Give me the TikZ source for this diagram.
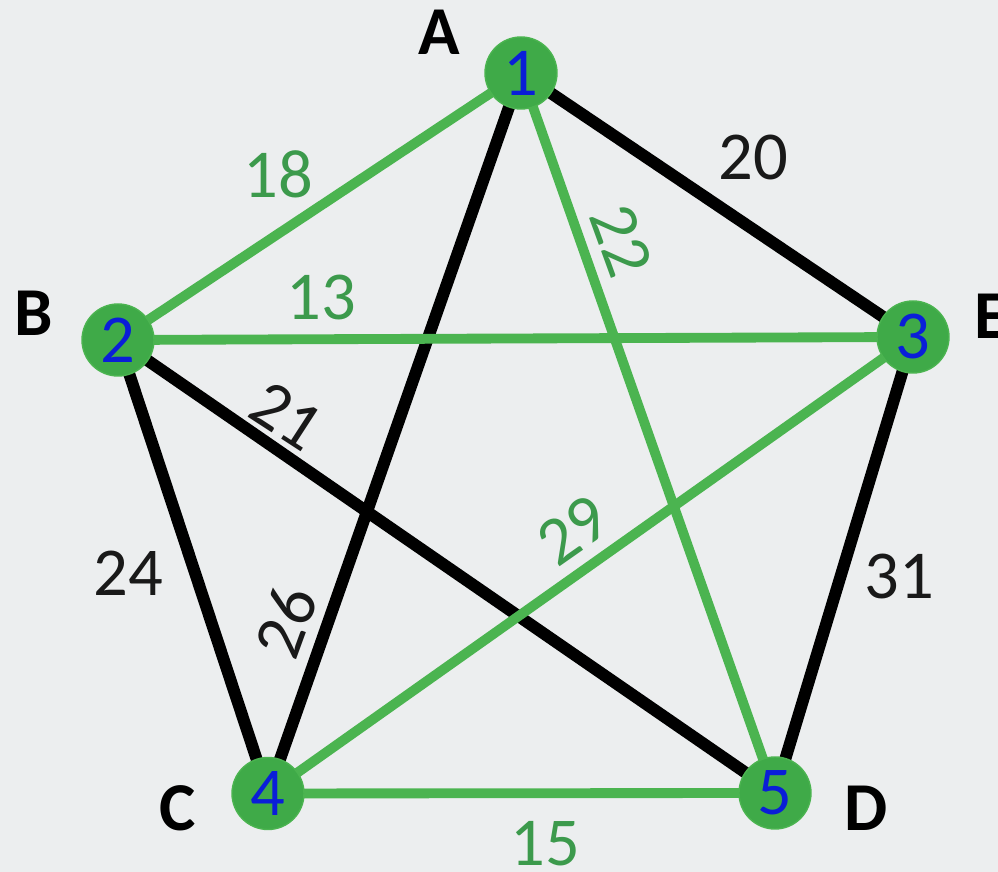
\documentclass[tikz,border=0pt]{standalone}
\usepackage{fontspec}
\setmainfont{Carlito}
\definecolor{bg}{HTML}{ECEEEF}
\definecolor{gedge}{HTML}{4BB450}
\definecolor{gnode}{HTML}{3FAA48}
\definecolor{gtext}{HTML}{3C9A4C}
\definecolor{ntext}{HTML}{0A1ED8}
\begin{document}
\begin{tikzpicture}[
  vertex/.style={circle,fill=gnode,draw=gedge,line width=0.8pt,minimum size=1.44cm,inner sep=0pt,
    font=\fontsize{39}{39}\selectfont,text=ntext},
  letter/.style={inner sep=0pt,font=\fontsize{39}{39}\selectfont\bfseries,text=black},
  wlab/.style={inner sep=0pt,font=\fontsize{39}{39}\selectfont,text=black!90},
  glab/.style={wlab,text=gtext},
  bedge/.style={draw=black,line width=6.8pt},
  gline/.style={draw=gedge,line width=5.6pt}
]
\useasboundingbox (0,0) rectangle (19.96,17.44);
\clip (0,0) rectangle (19.96,17.44);
\fill[bg] (0,0) rectangle (19.96,17.44);

\coordinate (p1) at (10.42,15.98);
\coordinate (p2) at (2.36,10.64);
\coordinate (p3) at (18.26,10.70);
\coordinate (p4) at (5.36,1.57);
\coordinate (p5) at (15.50,1.58);

% black edges
\draw[bedge] (p1) -- (p3);
\draw[bedge] (p1) -- (p4);
\draw[bedge] (p2) -- (p5);
\draw[bedge] (p2) -- (p4);
\draw[bedge] (p3) -- (p5);
% green edges
\draw[gline] (p1) -- (p2);
\draw[gline] (p2) -- (p3);
\draw[gline] (p1) -- (p5);
\draw[gline] (p3) -- (p4);
\draw[gline] (p4) -- (p5);

% vertices
\node[vertex] (n1) at (p1) {1};
\node[vertex] (n2) at (p2) {2};
\node[vertex] (n3) at (p3) {3};
\node[vertex] (n4) at (p4) {4};
\node[vertex] (n5) at (p5) {5};

% vertex letters
\node[letter] (lA) at (8.78,16.80) {A};
\node[letter] (lB) at (0.68,11.18) {B};
\node[letter] (lE) at (19.82,11.12) {E};
\node[letter] (lC) at (3.56,1.28) {C};
\node[letter] (lD) at (17.32,1.28) {D};

% edge weights
\node[glab] (w18) at (5.56,13.96) {18};
\node[wlab] (w20) at (15.06,14.28) {20};
\node[glab] (w13) at (6.42,11.48) {13};
\node[glab,rotate=-70] (w22) at (12.42,12.62) {22};
\node[wlab,rotate=-33] (w21) at (5.74,9.12) {21};
\node[wlab,rotate=70] (w26) at (5.72,5.00) {26};
\node[glab,rotate=35] (w29) at (11.46,6.84) {29};
\node[wlab] (w24) at (2.56,5.98) {24};
\node[wlab] (w31) at (17.98,5.90) {31};
\node[glab] (w15) at (10.90,0.56) {15};
\end{tikzpicture}
\end{document}
